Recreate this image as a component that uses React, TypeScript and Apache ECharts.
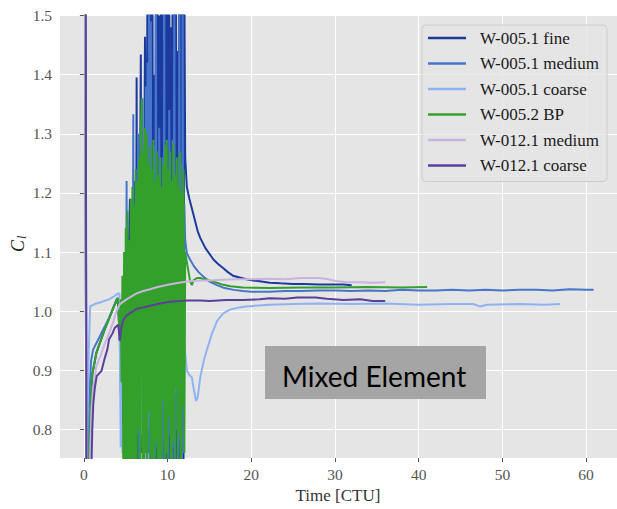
import React, { useEffect, useRef } from "react";
import * as echarts from "echarts";

// ---------- data ----------
const SERIES_NAMES = [
  "W-005.1 fine",
  "W-005.1 medium",
  "W-005.1 coarse",
  "W-005.2 BP",
  "W-012.1 medium",
  "W-012.1 coarse",
];
const COLORS = ["#1c3a9e", "#4675cc", "#8fb3f2", "#34a02c", "#c8b4dc", "#5b3f9c"];

const X_TICKS = [0, 10, 20, 30, 40, 50, 60];
const Y_TICKS = [0.8, 0.9, 1.0, 1.1, 1.2, 1.3, 1.4, 1.5];

// uniformly sampled transient window (time [CTU])
const NOISE_T0 = 4.4;
const NOISE_DT = 0.1;

// W-005.1 fine
const finePre: number[][] = [
  [0.1, 1.7], [0.3, 0.7], [0.65, 0.753], [0.8, 0.84], [1.0, 0.893], [1.5, 0.93],
  [2.0, 0.95], [2.7, 0.977], [3.3, 0.998], [3.9, 1.019], [4.05, 1.022], [4.3, 0.95],
];
const fineNoise = [
  1.00, 0.92, 0.98, 0.88, 1.02, 0.84, 1.05, 0.80, 1.10, 0.76,
  1.12, 1.19, 0.74, 1.08, 0.79, 1.15, 0.72, 1.22, 0.78, 1.395,
  0.74, 1.18, 0.70, 1.20, 1.434, 0.76, 1.24, 0.72, 1.21, 1.464,
  0.80, 1.30, 1.55, 0.78, 1.44, 0.70, 1.58, 0.76, 1.52, 0.72,
  1.40, 0.82, 1.56, 0.71, 1.62, 0.77, 1.50, 0.74, 1.60, 0.80,
  1.54, 0.70, 1.46, 0.78, 1.61, 0.73, 1.55, 0.79, 1.58, 0.72,
  1.48, 0.76, 1.63, 0.71, 1.53, 0.80, 1.57, 0.74, 1.44, 0.78,
  1.60, 0.72, 1.52, 0.79, 1.59, 0.75, 1.56, 1.26,
];
const finePost: number[][] = [
  [12.3, 1.21], [12.6, 1.19], [13.0, 1.168], [13.2, 1.157], [13.6, 1.135], [13.9, 1.124],
  [14.5, 1.107], [15.1, 1.095], [15.5, 1.087], [16.1, 1.079], [16.7, 1.072], [17.2, 1.066],
  [17.8, 1.06], [18.6, 1.057], [19.4, 1.054], [20.2, 1.052], [21.2, 1.05], [22.2, 1.048],
  [23.5, 1.047], [25.0, 1.046], [26.5, 1.046], [28.0, 1.045], [29.5, 1.045], [31.0, 1.045],
  [32.0, 1.044],
];

// W-005.1 medium
const mediumPre: number[][] = [
  [0.1, 1.7], [0.35, 0.7], [0.6, 0.84], [0.85, 0.915], [1.1, 0.935], [2.0, 0.96],
  [3.0, 0.988], [3.7, 1.012], [4.2, 1.02],
];
const mediumNoise = [
  0.86, 0.95, 0.78, 1.00, 0.74, 1.05, 0.80, 1.22, 0.73, 1.10,
  0.77, 1.12, 0.71, 1.18, 0.80, 1.333, 0.74, 1.15, 0.70, 1.20,
  0.79, 1.30, 0.73, 1.17, 0.77, 1.22, 1.36, 0.72, 1.25, 0.80,
  1.38, 0.70, 1.42, 0.76, 1.52, 0.73, 1.49, 0.74, 1.22, 0.79,
  1.28, 0.71, 1.55, 0.77, 1.20, 0.72, 1.31, 0.80, 1.18, 0.74,
  1.26, 0.78, 1.52, 0.70, 1.24, 0.76, 1.19, 0.73, 1.34, 0.79,
  1.21, 0.71, 1.29, 0.77, 1.56, 0.74, 1.23, 0.80, 1.17, 0.72,
  1.53, 0.78, 1.25, 0.73, 1.51, 0.76, 1.18, 1.12,
];
const mediumPost: number[][] = [
  [12.3, 1.098], [12.7, 1.087], [13.1, 1.077], [13.7, 1.066], [14.3, 1.058], [15.0, 1.05],
  [15.9, 1.044], [16.8, 1.039], [17.9, 1.036], [19.0, 1.034], [20.0, 1.033], [22.2, 1.033],
  [24.0, 1.034], [26.0, 1.034], [28.0, 1.035], [30.0, 1.035], [32.0, 1.034], [34.0, 1.035],
  [36.0, 1.034], [38.0, 1.036], [40.0, 1.035], [42.0, 1.035], [44.0, 1.036], [46.0, 1.035],
  [48.0, 1.036], [50.0, 1.035], [52.0, 1.036], [54.0, 1.036], [56.0, 1.035], [58.0, 1.037],
  [60.0, 1.036], [60.9, 1.036],
];

// W-005.1 coarse
const coarsePre: number[][] = [
  [0.1, 1.7], [0.3, 0.7], [0.55, 0.92], [0.75, 1.008], [1.3, 1.012], [2.0, 1.015],
  [3.0, 1.02], [3.7, 1.026], [4.1, 1.03], [4.25, 1.03],
];
const coarseNoise = [
  0.77, 0.96, 0.76, 0.90, 0.74, 0.94, 0.78, 1.00, 0.75, 0.97,
  0.80, 1.04, 0.76, 0.98, 0.82, 1.06, 0.78, 1.02, 0.84, 1.08,
  0.80, 1.05, 0.83, 1.10, 0.79, 1.03, 0.85, 1.09, 0.81, 1.06,
  0.84, 1.12, 0.80, 1.04, 0.86, 1.08, 0.82, 1.11, 0.85, 1.05,
  0.81, 1.09, 0.87, 1.07, 0.83, 1.10, 0.86, 1.04, 0.82, 1.08,
  0.88, 1.06, 0.84, 1.11, 0.87, 1.03, 0.83, 1.07, 0.88, 1.09,
  0.85, 1.05, 0.89, 1.08, 0.86, 1.02, 0.88, 1.06, 0.90, 1.03,
  0.87, 1.01, 0.91, 0.99, 0.89, 0.97, 0.944,
];
const coarsePost: number[][] = [
  [12.3, 0.90], [12.6, 0.892], [12.9, 0.888], [13.1, 0.87], [13.4, 0.848], [13.6, 0.855],
  [13.9, 0.888], [14.3, 0.915], [14.7, 0.935], [15.3, 0.962], [15.9, 0.983], [16.6, 0.996],
  [17.5, 1.003], [18.5, 1.006], [19.4, 1.008], [22.2, 1.011], [25.0, 1.012], [28.0, 1.013],
  [32.0, 1.012], [36.0, 1.013], [40.0, 1.011], [44.0, 1.012], [46.5, 1.012], [47.3, 1.008],
  [48.2, 1.011], [52.0, 1.012], [55.0, 1.011], [56.9, 1.012],
];

// W-005.2 BP
const bpPre: number[][] = [
  [0.1, 1.7], [0.3, 0.7], [0.65, 0.753], [0.8, 0.84], [1.0, 0.893], [1.5, 0.93],
  [2.0, 0.95], [2.7, 0.977], [3.3, 0.998], [3.9, 1.019], [4.05, 1.022], [4.3, 0.95],
];
const bpNoise = [
  1.02, 0.88, 1.06, 0.74, 1.10, 0.71, 1.14, 0.72, 1.17, 0.70,
  1.12, 0.71, 1.19, 0.73, 1.21, 0.70, 1.18, 0.74, 1.24, 0.72,
  1.22, 0.80, 1.26, 0.71, 1.30, 1.36, 0.73, 1.27, 0.70, 1.31,
  0.76, 1.30, 0.72, 1.25, 0.83, 1.28, 0.71, 1.24, 0.74, 1.29,
  0.72, 1.22, 0.78, 1.27, 0.70, 1.23, 0.75, 1.26, 0.73, 1.21,
  0.85, 1.25, 0.72, 1.28, 0.76, 1.29, 0.71, 1.24, 0.82, 1.27,
  0.73, 1.22, 0.78, 1.285, 0.74, 1.23, 0.87, 1.26, 0.71, 1.21,
  0.79, 1.27, 0.74, 1.20, 0.84, 1.24, 0.76, 1.10,
];
const bpPost: number[][] = [
  [12.4, 1.075], [12.7, 1.05], [12.9, 1.044], [13.1, 1.052], [13.5, 1.056], [13.9, 1.056],
  [14.5, 1.053], [15.5, 1.05], [16.5, 1.045], [17.5, 1.042], [19.0, 1.04], [22.2, 1.039],
  [26.0, 1.04], [30.0, 1.04], [34.0, 1.041], [38.0, 1.04], [41.0, 1.041],
];

// W-012.1 medium
const m12Medium: number[][] = [
  [0.1, 1.7], [0.3, 0.7], [0.75, 0.752], [0.9, 0.83], [1.1, 0.87], [1.5, 0.907],
  [2.0, 0.925], [2.5, 0.945], [3.1, 0.966], [3.5, 0.982], [3.9, 1.0], [4.3, 1.012],
  [5.1, 1.02], [5.7, 1.025], [6.3, 1.03], [7.1, 1.034], [7.9, 1.037], [8.6, 1.04],
  [9.5, 1.043], [10.5, 1.046], [11.4, 1.048], [12.3, 1.05], [13.9, 1.052], [15.0, 1.052],
  [16.5, 1.053], [18.0, 1.054], [20.2, 1.054], [22.0, 1.055], [24.0, 1.054], [26.0, 1.056],
  [28.1, 1.056], [29.2, 1.054], [30.1, 1.051], [31.5, 1.049], [33.0, 1.049], [34.5, 1.048],
  [36.0, 1.049],
];

// W-012.1 coarse
const m12Coarse: number[][] = [
  [0.2, 1.8], [0.3, 0.7], [0.85, 0.7], [1.0, 0.8], [1.12, 0.843], [1.3, 0.87],
  [1.53, 0.89], [2.1, 0.899], [2.5, 0.921], [2.8, 0.935], [3.0, 0.952], [3.4, 0.962],
  [3.7, 0.972], [4.1, 0.977], [4.3, 0.95], [4.5, 0.975], [4.7, 0.985], [5.1, 0.993],
  [5.9, 1.0], [6.3, 1.004], [7.0, 1.006], [7.9, 1.009], [9.1, 1.013], [10.3, 1.016],
  [11.5, 1.017], [12.3, 1.018], [13.9, 1.018], [15.0, 1.017], [17.0, 1.019], [19.0, 1.019],
  [21.0, 1.02], [22.2, 1.022], [24.0, 1.021], [25.5, 1.023], [27.7, 1.023], [29.0, 1.021],
  [31.0, 1.019], [33.0, 1.02], [34.5, 1.017], [36.0, 1.017],
];

function build(pre: number[][], noise: number[], post: number[][]): number[][] {
  const pts: number[][] = pre.map((p) => [p[0], p[1]]);
  noise.forEach((v, i) => pts.push([+(NOISE_T0 + i * NOISE_DT).toFixed(2), v]));
  post.forEach((p) => pts.push([p[0], p[1]]));
  return pts;
}

const SERIES_DATA = [
  build(finePre, fineNoise, finePost),
  build(mediumPre, mediumNoise, mediumPost),
  build(coarsePre, coarseNoise, coarsePost),
  build(bpPre, bpNoise, bpPost),
  m12Medium,
  m12Coarse,
];

const SERIF = "Liberation Serif";

export default function App() {
  const ref = useRef<HTMLDivElement>(null);
  useEffect(() => {
    if (!ref.current) return;
    const chart = echarts.init(ref.current, undefined, { renderer: "svg" });
    chart.setOption({
      animation: false,
      backgroundColor: "#ffffff",
      grid: {
        left: 59,
        top: 15.5,
        width: 558,
        height: 445.5,
        show: true,
        backgroundColor: "#e5e5e5",
        borderWidth: 0,
      },
      xAxis: {
        type: "value",
        min: -2.975,
        max: 63.69,
        splitNumber: 7,
        name: "Time [CTU]",
        nameLocation: "middle",
        nameGap: 26,
        nameTextStyle: { fontFamily: SERIF, fontSize: 17, color: "#333333" },
        axisLine: { show: false },
        axisTick: { show: true, length: 4, lineStyle: { color: "#555555", width: 1 } },
        axisLabel: {
          showMinLabel: false,
          showMaxLabel: false,
          margin: 8,
          fontFamily: SERIF,
          fontSize: 15.5,
          color: "#555555",
          formatter: (v: number) => (X_TICKS.indexOf(Math.round(v)) >= 0 && Math.abs(v - Math.round(v)) < 1e-6 ? String(Math.round(v)) : ""),
        },
        splitLine: { show: true, lineStyle: { color: "#ffffff", width: 1 } },
      },
      yAxis: {
        type: "value",
        min: 0.7515,
        max: 1.5,
        splitNumber: 7,
        axisLine: { show: false },
        axisTick: { show: true, length: 4, lineStyle: { color: "#555555", width: 1 } },
        axisLabel: {
          showMinLabel: false,
          margin: 7,
          fontFamily: SERIF,
          fontSize: 15.5,
          color: "#555555",
          formatter: (v: number) => {
            const r = Math.round(v * 10) / 10;
            return Y_TICKS.some((t) => Math.abs(t - r) < 1e-6) && Math.abs(v - r) < 1e-6 ? r.toFixed(1) : "";
          },
        },
        splitLine: { show: true, lineStyle: { color: "#ffffff", width: 1 } },
      },
      legend: {
        orient: "vertical",
        left: 422,
        top: 25,
        padding: [3, 8, 6, 6],
        itemGap: 5.5,
        itemWidth: 38,
        itemHeight: 2.5,
        icon: "rect",
        backgroundColor: "rgba(229,229,229,0.8)",
        borderColor: "#cccccc",
        borderWidth: 1,
        borderRadius: 4,
        textStyle: {
          fontFamily: SERIF,
          fontSize: 17,
          color: "#1a1a1a",
          lineHeight: 20,
          padding: [0, 0, 0, 9],
        },
        data: SERIES_NAMES,
      },
      series: SERIES_NAMES.map((name, i) => ({
        name,
        type: "line",
        data: SERIES_DATA[i],
        symbol: "none",
        showSymbol: false,
        clip: true,
        color: COLORS[i],
        lineStyle: { color: COLORS[i], width: 2 },
        emphasis: { disabled: true },
      })),
      graphic: [
        {
          type: "group",
          x: 18,
          y: 240,
          rotation: Math.PI / 2,
          children: [
            {
              type: "text",
              x: 0,
              y: 0,
              style: {
                text: "C",
                font: "italic 18px " + SERIF,
                fill: "#222222",
                textAlign: "right",
                textVerticalAlign: "middle",
              },
            },
            {
              type: "text",
              x: 1,
              y: 4,
              style: {
                text: "l",
                font: "italic 12px " + SERIF,
                fill: "#222222",
                textAlign: "left",
                textVerticalAlign: "middle",
              },
            },
          ],
        },
        {
          type: "rect",
          shape: { x: 265, y: 346, width: 221, height: 53 },
          style: { fill: "#a5a5a5" },
          z: 100,
        },
        {
          type: "text",
          x: 282,
          y: 376,
          style: {
            text: "Mixed Element",
            font: "28px Lato, 'Open Sans', sans-serif",
            fill: "#000000",
            textVerticalAlign: "middle",
          },
          z: 101,
        },
      ],
    });
    return () => chart.dispose();
  }, []);
  return (
    <div
      ref={ref}
      style={{ position: "fixed", left: 0, top: 0, width: 617, height: 509 }}
    />
  );
}
